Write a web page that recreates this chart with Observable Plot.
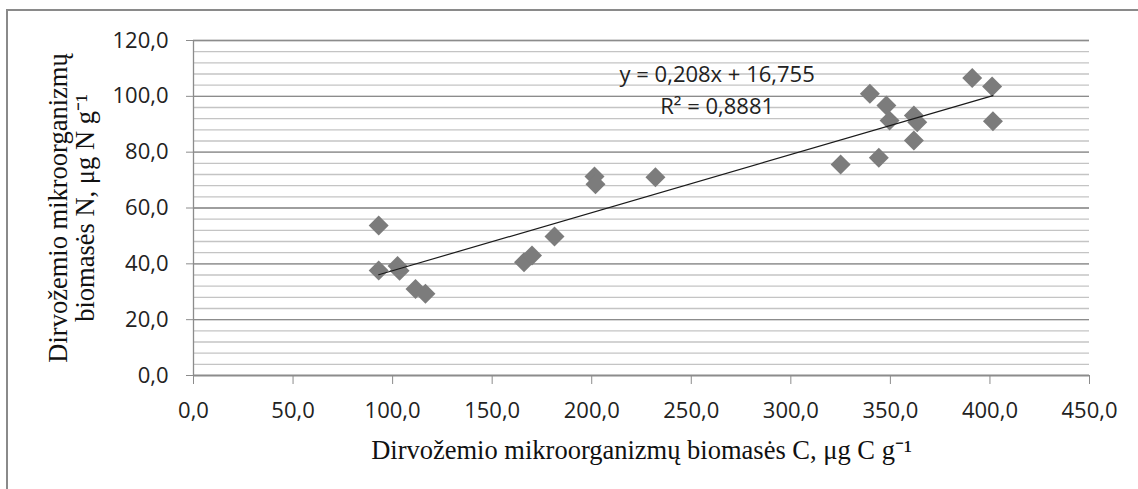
<!DOCTYPE html>
<html>
<head>
<meta charset="utf-8">
<script src="https://cdn.jsdelivr.net/npm/d3@7"></script>
<script src="https://cdn.jsdelivr.net/npm/@observablehq/plot@0.6"></script>
<style>
  html, body { margin: 0; padding: 0; background: #fff; }
  #wrap { width: 1138px; height: 489px; overflow: hidden; }
  #wrap svg { display: block; }
</style>
</head>
<body>
<div id="wrap"></div>
<script>
// Soil microbial biomass: carbon (x) vs nitrogen (y), µg per g of soil
const cBiomass = [93, 93, 102.5, 103.5, 111.5, 116.5, 166, 170, 181.3, 201.4, 201.9, 232,
                  325, 339.7, 344.2, 348, 349.6, 361.8, 363.5, 361.8, 391.1, 401.1, 401.5];
const nBiomass = [53.7, 37.6, 39.2, 37.5, 31, 29.3, 40.6, 43, 49.8, 71.3, 68.5, 71,
                  75.6, 100.9, 78, 96.7, 91.3, 93.1, 90.7, 84.2, 106.6, 103.5, 91.1];

// Linear trend reported on the chart
const slope = 0.208;
const intercept = 16.755;
const rSquared = 0.8881;

const xTicks = [0, 50, 100, 150, 200, 250, 300, 350, 400, 450];
const yTicks = [0, 20, 40, 60, 80, 100, 120];
const yMinorTicks = d3.range(0, 121, 4);

const xLabel = "Dirvožemio mikroorganizmų biomasės C, μg C g⁻¹";
const yLabelLines = ["Dirvožemio mikroorganizmų", "biomasės N, μg N g⁻¹"];

const points = cBiomass.map((c, i) => ({c, n: nBiomass[i]}));
const xExtent = d3.extent(cBiomass);
const trend = xExtent.map(c => ({c, n: slope * c + intercept}));

const fmt = d => d.toFixed(1).replace(".", ",");
const fmtCoef = (v, k) => v.toFixed(k).replace(".", ",");

const sans = "'Open Sans', sans-serif";
const serif = "'Liberation Serif', 'Times New Roman', serif";
const labelSize = 26.5;

const chart = Plot.plot({
  width: 1138,
  height: 489,
  marginLeft: 193,
  marginRight: 49,
  marginTop: 40,
  marginBottom: 114,
  style: {fontFamily: sans, fontSize: "22px", color: "#222", background: "#fff"},
  x: {domain: [0, 450]},
  y: {domain: [0, 120]},
  marks: [
    Plot.gridY({ticks: yMinorTicks, stroke: "#c4c4c4", strokeOpacity: 1, strokeWidth: 1.3}),
    Plot.gridY({ticks: yTicks, stroke: "#8c8c8c", strokeOpacity: 1, strokeWidth: 1.3}),
    Plot.ruleX([0], {stroke: "#8c8c8c", strokeWidth: 1.3}),
    Plot.ruleY([0], {stroke: "#8c8c8c", strokeWidth: 1.3}),
    Plot.axisY({ticks: yTicks, tickFormat: fmt, tickSize: 7, tickPadding: 18,
                stroke: "#8c8c8c", fill: "#222", label: null}),
    Plot.axisX({ticks: xTicks, tickFormat: fmt, tickSize: 9, tickPadding: 18,
                stroke: "#8c8c8c", fill: "#222", label: null}),
    Plot.dot(points, {x: "c", y: "n", symbol: "diamond2", r: 9, fill: "#7c7c7c", stroke: "none"}),
    Plot.line(trend, {x: "c", y: "n", stroke: "#1a1a1a", strokeWidth: 1.2}),
    Plot.text([`y = ${fmtCoef(slope, 3)}x + ${fmtCoef(intercept, 3)}`], {
      x: 263, y: 107.6, text: d => d, fill: "#222", fontFamily: sans, fontSize: 22
    }),
    Plot.text([`R² = ${fmtCoef(rSquared, 4)}`], {
      x: 263, y: 96.2, text: d => d, fill: "#222", fontFamily: sans, fontSize: 22
    }),
    Plot.text([xLabel], {
      frameAnchor: "bottom", dy: 83, text: d => d, lineAnchor: "bottom", textAnchor: "middle",
      fill: "#111", fontFamily: serif, fontSize: labelSize
    }),
    Plot.text([yLabelLines[0]], {
      frameAnchor: "left", dx: -127, rotate: -90, text: d => d, lineAnchor: "bottom",
      textAnchor: "middle", fill: "#111", fontFamily: serif, fontSize: labelSize
    }),
    Plot.text([yLabelLines[1]], {
      frameAnchor: "left", dx: -100, rotate: -90, text: d => d, lineAnchor: "bottom",
      textAnchor: "middle", fill: "#111", fontFamily: serif, fontSize: labelSize
    })
  ]
});

// Outer chart-area border (left and top edges; the rest runs off the page)
d3.select(chart).append("path")
  .attr("d", "M7,489V10H1138")
  .attr("fill", "none")
  .attr("stroke", "#8a8a8a")
  .attr("stroke-width", 2);

document.getElementById("wrap").append(chart);
</script>
</body>
</html>
